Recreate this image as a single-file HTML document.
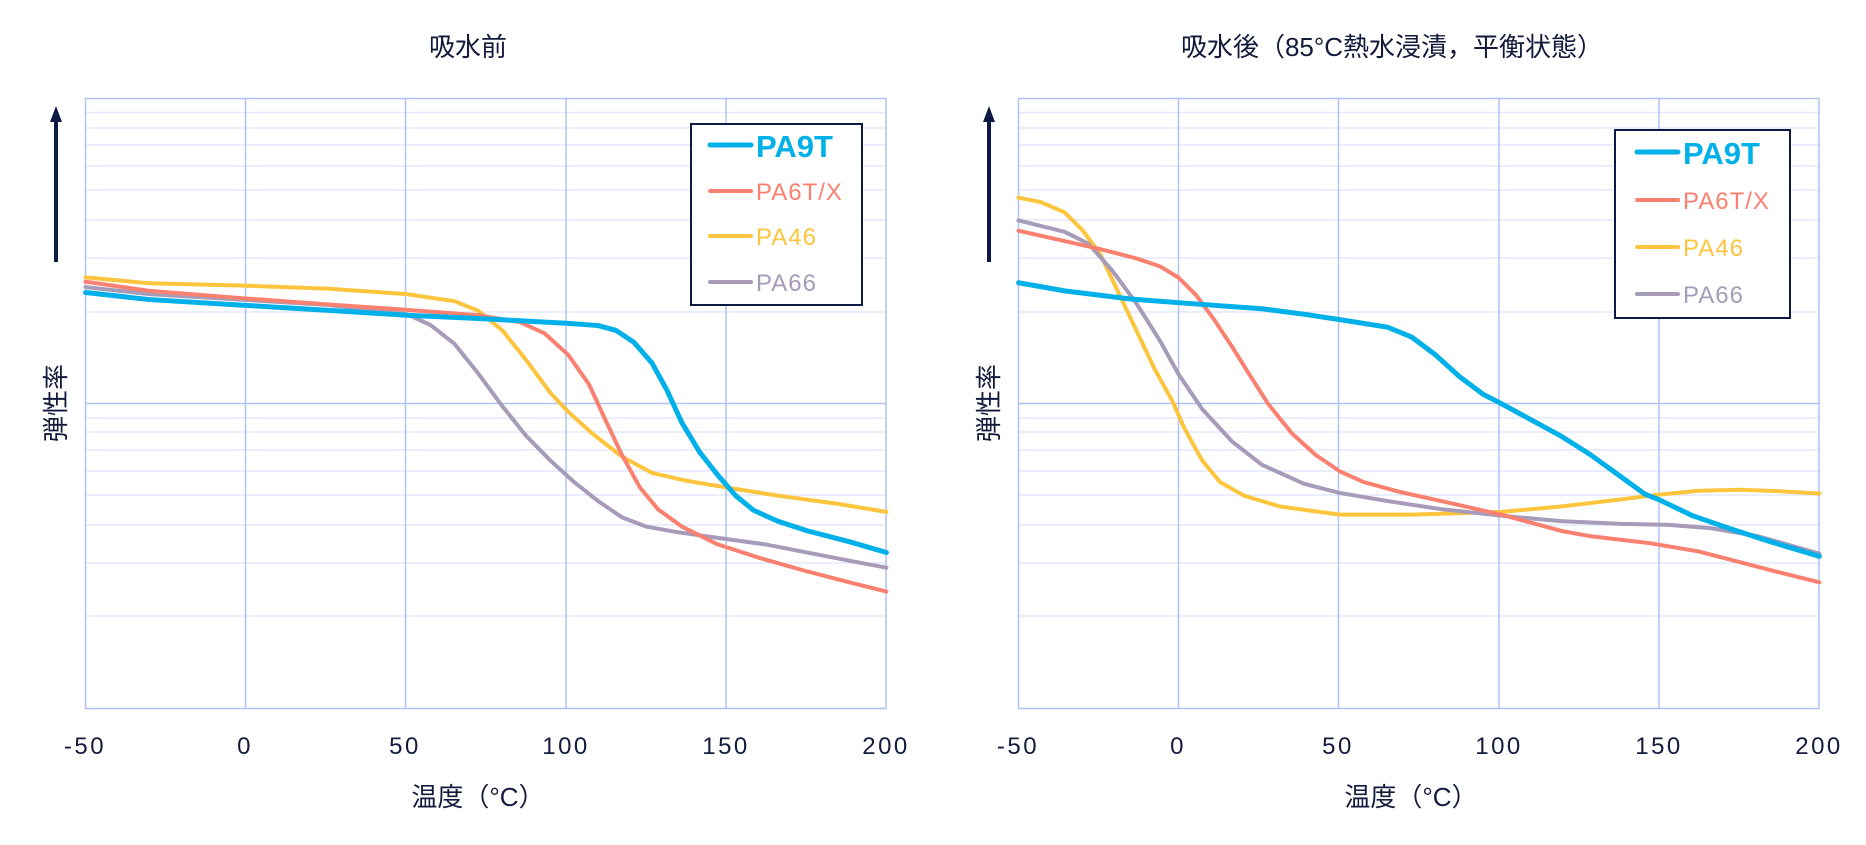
<!DOCTYPE html>
<html><head><meta charset="utf-8"><style>
html,body{margin:0;padding:0;background:#fff;}
svg{display:block;}
text{font-family:"Liberation Sans","Noto Sans CJK JP",sans-serif;fill:#141a3c;}
.t{font-size:24px;letter-spacing:2.5px;text-anchor:middle;}
.c{fill:none;stroke-linejoin:round;stroke-linecap:round;vector-effect:non-scaling-stroke;}
</style></head><body>
<svg width="1866" height="845" viewBox="0 0 1866 845" xmlns="http://www.w3.org/2000/svg">
<defs>
<g id="grid">
 <g stroke="#e3e8fb" stroke-width="1.5">
  <line x1="85" x2="886" y1="112.5" y2="112.5"/><line x1="85" x2="886" y1="128" y2="128"/>
  <line x1="85" x2="886" y1="145" y2="145"/><line x1="85" x2="886" y1="166" y2="166"/>
  <line x1="85" x2="886" y1="190" y2="190"/><line x1="85" x2="886" y1="220" y2="220"/>
  <line x1="85" x2="886" y1="258" y2="258"/><line x1="85" x2="886" y1="312" y2="312"/>
  <line x1="85" x2="886" y1="418" y2="418"/><line x1="85" x2="886" y1="432" y2="432"/>
  <line x1="85" x2="886" y1="450" y2="450"/><line x1="85" x2="886" y1="471" y2="471"/>
  <line x1="85" x2="886" y1="495" y2="495"/><line x1="85" x2="886" y1="525" y2="525"/>
  <line x1="85" x2="886" y1="563" y2="563"/><line x1="85" x2="886" y1="616" y2="616"/>
 </g>
 <g stroke="#b3c2f5" stroke-width="1.5">
  <line x1="85" x2="886" y1="98.5" y2="98.5"/><line x1="85" x2="886" y1="403.5" y2="403.5"/>
  <line x1="85" x2="886" y1="708.5" y2="708.5"/>
  <line x1="85.5" x2="85.5" y1="98" y2="709"/><line x1="245.5" x2="245.5" y1="98" y2="709"/>
  <line x1="405.5" x2="405.5" y1="98" y2="709"/><line x1="566" x2="566" y1="98" y2="709"/>
  <line x1="726" x2="726" y1="98" y2="709"/><line x1="886" x2="886" y1="98" y2="709"/>
 </g>
 <g class="t">
  <text x="85" y="754">-50</text><text x="245" y="754">0</text><text x="405" y="754">50</text>
  <text x="566" y="754">100</text><text x="726" y="754">150</text><text x="886" y="754">200</text>
 </g>
 <text x="478" y="806" font-size="26" text-anchor="middle">温度（°C）</text>
 <line x1="56" y1="120" x2="56" y2="262" stroke="#0d1a45" stroke-width="4"/>
 <polygon points="56,106 50,122 62,122" fill="#0d1a45"/>
 <text transform="translate(65,403) rotate(-90)" font-size="26" text-anchor="middle">弾性率</text>
</g>
</defs>

<use href="#grid"/>
<use href="#grid" x="933"/>

<text x="468" y="56" font-size="26" text-anchor="middle">吸水前</text>
<text x="1392" y="56" font-size="26" text-anchor="middle">吸水後（85°C熱水浸漬，平衡状態）</text>

<g transform="scale(0.5981,0.5417)">
 <polyline class="c" stroke="#fdc53d" stroke-width="4" points="143,512 250,523 400,527 550,533 680,543 760,556 800,574 840,610 880,665 920,725 950,760 990,800 1040,843 1090,873 1150,888 1215,900 1300,915 1400,930 1482,945"/>
 <polyline class="c" stroke="#a69bb8" stroke-width="4" points="143,530 250,543 400,553 550,563 680,580 720,600 760,635 800,690 840,750 880,805 920,850 960,890 1000,925 1040,955 1080,972 1130,982 1200,993 1280,1005 1350,1020 1420,1035 1482,1048"/>
 <polyline class="c" stroke="#fa8070" stroke-width="4" points="143,520 250,537 400,550 550,562 680,572 800,582 870,595 910,615 950,655 985,710 1010,770 1040,840 1070,900 1100,940 1140,972 1200,1005 1270,1030 1350,1055 1420,1075 1482,1092"/>
 <polyline class="c" stroke="#00b0e8" stroke-width="5" points="143,540 250,553 400,563 550,573 680,582 800,588 950,597 1000,601 1030,610 1060,632 1090,670 1115,720 1140,780 1170,835 1200,877 1230,915 1260,942 1300,962 1350,980 1420,1000 1482,1020"/>
</g>
<g transform="translate(933,0) scale(0.5981,0.5417)">
 <polyline class="c" stroke="#fdc53d" stroke-width="4" points="143,365 180,373 220,392 250,425 280,470 310,540 340,610 370,680 400,740 420,790 450,850 480,890 520,915 580,935 680,950 800,950 950,945 1050,935 1150,922 1215,913 1280,906 1350,904 1420,907 1482,911"/>
 <polyline class="c" stroke="#a69bb8" stroke-width="4" points="143,407 220,428 260,450 300,500 340,560 380,630 410,690 450,755 500,815 550,858 620,893 680,910 760,925 850,940 950,952 1050,962 1150,967 1230,969 1300,975 1380,990 1482,1022"/>
 <polyline class="c" stroke="#fa8070" stroke-width="4" points="143,426 220,445 280,460 340,477 380,492 410,512 440,545 470,590 500,640 530,693 560,745 600,800 640,840 680,870 720,890 780,908 850,925 950,950 1000,965 1050,980 1100,990 1200,1003 1280,1018 1350,1038 1420,1058 1482,1075"/>
 <polyline class="c" stroke="#00b0e8" stroke-width="5" points="143,522 220,537 330,552 450,562 550,570 620,580 680,590 760,604 800,622 840,655 880,695 920,728 950,745 1000,775 1050,805 1100,840 1150,880 1190,912 1215,923 1270,952 1330,975 1400,1000 1482,1027"/>
</g>

<g>
 <rect x="691" y="124" width="171" height="181" fill="#fff" stroke="#0d1a45" stroke-width="2"/>
 <line x1="710" x2="751" y1="145" y2="145" stroke="#00b0e8" stroke-width="5" stroke-linecap="round"/>
 <text x="756" y="157" font-size="31" font-weight="bold" style="fill:#00b0e8">PA9T</text>
 <line x1="710" x2="751" y1="191" y2="191" stroke="#fa8070" stroke-width="4" stroke-linecap="round"/>
 <text x="756" y="200" font-size="24" letter-spacing="1" style="fill:#fa8070">PA6T/X</text>
 <line x1="710" x2="751" y1="236" y2="236" stroke="#fdc53d" stroke-width="4" stroke-linecap="round"/>
 <text x="756" y="245" font-size="24" letter-spacing="1" style="fill:#fdc53d">PA46</text>
 <line x1="710" x2="751" y1="282" y2="282" stroke="#a69bb8" stroke-width="4" stroke-linecap="round"/>
 <text x="756" y="291" font-size="24" letter-spacing="1" style="fill:#a69bb8">PA66</text>
</g>
<g>
 <rect x="1615" y="130" width="175" height="188" fill="#fff" stroke="#0d1a45" stroke-width="2"/>
 <line x1="1637" x2="1678" y1="152" y2="152" stroke="#00b0e8" stroke-width="5" stroke-linecap="round"/>
 <text x="1683" y="164" font-size="31" font-weight="bold" style="fill:#00b0e8">PA9T</text>
 <line x1="1637" x2="1678" y1="200" y2="200" stroke="#fa8070" stroke-width="4" stroke-linecap="round"/>
 <text x="1683" y="209" font-size="24" letter-spacing="1" style="fill:#fa8070">PA6T/X</text>
 <line x1="1637" x2="1678" y1="247" y2="247" stroke="#fdc53d" stroke-width="4" stroke-linecap="round"/>
 <text x="1683" y="256" font-size="24" letter-spacing="1" style="fill:#fdc53d">PA46</text>
 <line x1="1637" x2="1678" y1="294" y2="294" stroke="#a69bb8" stroke-width="4" stroke-linecap="round"/>
 <text x="1683" y="303" font-size="24" letter-spacing="1" style="fill:#a69bb8">PA66</text>
</g>
</svg>
</body></html>
